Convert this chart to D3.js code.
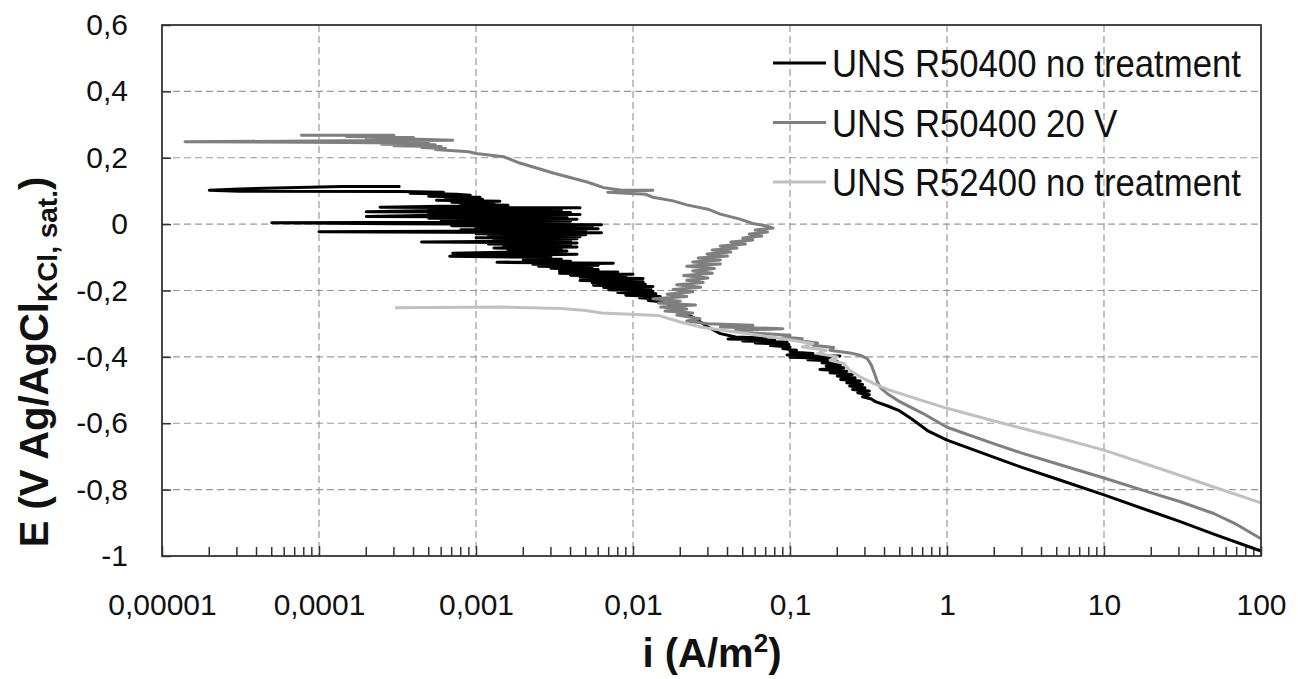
<!DOCTYPE html>
<html>
<head>
<meta charset="utf-8">
<script src="https://cdn.jsdelivr.net/npm/d3@7"></script>
<style>
body{margin:0;background:#fff;}
svg{display:block;font-family:"Liberation Sans",Arial,sans-serif;}
.grid line{stroke:#999;stroke-width:1.2;stroke-dasharray:7,4;}
.axis text{font-size:30px;fill:#111;}
.axis line{stroke:#333;stroke-width:1.5;}
.axis path{stroke:none;}
.series{fill:none;stroke-width:3;stroke-linejoin:round;}
</style>
</head>
<body>
<script>
//polarization curves, current density (A/m2) vs potential (V Ag/AgCl)

//tick values and labels
var xTickValues = [1e-5, 1e-4, 1e-3, 1e-2, 1e-1, 1, 10, 100];
var xTickLabels = ["0,00001", "0,0001", "0,001", "0,01", "0,1", "1", "10", "100"];
var yTickValues = [0.6, 0.4, 0.2, 0, -0.2, -0.4, -0.6, -0.8, -1];
var yTickLabels = ["0,6", "0,4", "0,2", "0", "-0,2", "-0,4", "-0,6", "-0,8", "-1"];

//series names and colours
var seriesNames = ["UNS R50400 no treatment", "UNS R50400 20 V", "UNS R52400 no treatment"];
var seriesColors = ["#000000", "#7f7f7f", "#c0c0c0"];

//each point is [i (A/m2), E (V)]
var r50400Untreated = [
    [3.3e-4, 0.113], [1.4e-4, 0.113], [3.1e-5, 0.106], [2.0e-5, 0.102], [3.1e-5, 0.099],
    [3.3e-4, 0.098], [6.2e-4, 0.096], [3.8e-4, 0.093], [7.5e-4, 0.090], [9.2e-4, 0.087],
    [5.0e-4, 0.084], [1.06e-3, 0.081], [6.4e-4, 0.078], [1.1e-3, 0.075], [5.6e-4, 0.072],
    [1.42e-3, 0.069], [7.0e-4, 0.066], [1.3e-3, 0.063], [8.0e-4, 0.060], [1.6e-3, 0.057],
    [6.0e-4, 0.054], [2.45e-4, 0.051], [4.6e-3, 0.049], [5.0e-4, 0.046], [3.5e-3, 0.043],
    [4.4e-4, 0.040], [2.0e-4, 0.037], [4.0e-3, 0.035], [5.0e-4, 0.032], [4.6e-3, 0.029],
    [4.4e-4, 0.026], [2.0e-4, 0.023], [3.8e-3, 0.021], [5.0e-4, 0.018], [4.4e-3, 0.015],
    [6.0e-4, 0.012], [4.0e-3, 0.009], [8.0e-4, 0.006], [5.0e-5, 0.004], [3.0e-4, 0.001],
    [6.3e-3, -0.002], [7.0e-4, -0.005], [5.5e-3, -0.008], [1.0e-3, -0.011], [6.0e-3, -0.014],
    [8.0e-4, -0.017], [5.0e-3, -0.020], [1.0e-4, -0.023], [6.3e-3, -0.026], [1.0e-3, -0.029],
    [5.0e-3, -0.032], [1.2e-3, -0.035], [4.6e-3, -0.038], [1.0e-3, -0.041], [4.4e-3, -0.044],
    [1.3e-3, -0.047], [4.0e-3, -0.050], [4.5e-4, -0.054], [4.4e-3, -0.057], [1.2e-3, -0.060],
    [4.0e-3, -0.063], [1.5e-3, -0.066], [4.4e-3, -0.069], [1.3e-3, -0.072], [3.5e-3, -0.075],
    [1.6e-3, -0.078], [3.8e-3, -0.081], [1.5e-3, -0.085], [7.1e-4, -0.088], [4.4e-3, -0.091],
    [1.8e-3, -0.094], [6.8e-4, -0.097], [3.0e-3, -0.100], [2.0e-3, -0.103], [3.5e-3, -0.106],
    [2.0e-3, -0.109], [4.0e-3, -0.112], [1.36e-3, -0.115], [7.5e-3, -0.118], [2.3e-3, -0.121],
    [6.0e-3, -0.124], [2.5e-3, -0.127], [5.5e-3, -0.130], [3.0e-3, -0.133], [6.0e-3, -0.137],
    [3.4e-3, -0.141], [8.0e-3, -0.144], [3.4e-3, -0.148], [0.010, -0.151], [4.0e-3, -0.154],
    [9.0e-3, -0.157], [4.6e-3, -0.160], [0.0116, -0.164], [5.0e-3, -0.167], [4.6e-3, -0.170],
    [0.0116, -0.174], [5.5e-3, -0.177], [0.012, -0.181], [5.6e-3, -0.184], [0.0134, -0.188],
    [6.5e-3, -0.191], [0.013, -0.195], [7.0e-3, -0.198], [0.0134, -0.202], [8.0e-3, -0.206],
    [0.014, -0.210], [9.0e-3, -0.214], [0.0149, -0.218], [0.011, -0.222], [0.015, -0.226],
    [0.0125, -0.230], [0.016, -0.235], [0.018, -0.250], [0.022, -0.270], [0.026, -0.290],
    [0.030, -0.310], [0.036, -0.330], [0.045, -0.340], [0.070, -0.343], [0.0403, -0.346],
    [0.080, -0.349], [0.050, -0.352], [0.0957, -0.355], [0.060, -0.358], [0.098, -0.362],
    [0.075, -0.366], [0.100, -0.370], [0.090, -0.375], [0.110, -0.380], [0.100, -0.385],
    [0.140, -0.390], [0.0957, -0.394], [0.208, -0.397], [0.100, -0.401], [0.190, -0.405],
    [0.130, -0.409], [0.200, -0.413], [0.160, -0.418], [0.210, -0.423], [0.170, -0.428],
    [0.220, -0.433], [0.155, -0.438], [0.230, -0.443], [0.180, -0.448], [0.250, -0.453],
    [0.200, -0.458], [0.260, -0.463], [0.210, -0.468], [0.280, -0.473], [0.230, -0.478],
    [0.290, -0.483], [0.240, -0.488], [0.300, -0.493], [0.250, -0.498], [0.320, -0.503],
    [0.270, -0.508], [0.320, -0.514], [0.290, -0.520], [0.330, -0.527], [0.350, -0.535],
    [0.420, -0.548], [0.50, -0.563], [0.60, -0.588], [0.75, -0.622], [1, -0.651],
    [2, -0.703], [3, -0.733], [5, -0.768], [10, -0.816], [20, -0.866],
    [30, -0.895], [50, -0.934], [100, -0.985]
];

var r50400At20V = [
    [7.6e-5, 0.268], [3.0e-4, 0.268], [1.5e-4, 0.264], [4.0e-4, 0.261], [2.0e-4, 0.258],
    [4.4e-4, 0.256], [7.1e-4, 0.253], [1.4e-4, 0.251], [1.4e-5, 0.248], [1.5e-4, 0.246],
    [5.0e-4, 0.244], [2.5e-4, 0.241], [5.5e-4, 0.239], [3.0e-4, 0.236], [6.0e-4, 0.234],
    [4.5e-4, 0.231], [6.4e-4, 0.228], [5.5e-4, 0.225], [9.0e-4, 0.218], [1.0e-3, 0.213],
    [1.5e-3, 0.203], [1.9e-3, 0.184], [3.1e-3, 0.154], [5.1e-3, 0.127], [6.5e-3, 0.110],
    [8.3e-3, 0.103], [0.0134, 0.102], [6.9e-3, 0.096], [0.012, 0.090], [0.0134, 0.081],
    [0.018, 0.070], [0.022, 0.058], [0.030, 0.045], [0.036, 0.030], [0.048, 0.015],
    [0.058, 0.002], [0.070, -0.005], [0.078, -0.012], [0.060, -0.018], [0.072, -0.024],
    [0.055, -0.030], [0.066, -0.036], [0.050, -0.042], [0.058, -0.048], [0.042, -0.054],
    [0.052, -0.060], [0.036, -0.066], [0.046, -0.072], [0.032, -0.078], [0.042, -0.084],
    [0.0296, -0.090], [0.040, -0.096], [0.026, -0.102], [0.036, -0.108], [0.024, -0.114],
    [0.036, -0.120], [0.022, -0.127], [0.033, -0.134], [0.024, -0.141], [0.032, -0.148],
    [0.021, -0.155], [0.030, -0.162], [0.022, -0.169], [0.028, -0.176], [0.019, -0.183],
    [0.027, -0.190], [0.018, -0.197], [0.024, -0.204], [0.0165, -0.211], [0.022, -0.218],
    [0.0134, -0.225], [0.020, -0.232], [0.0145, -0.238], [0.025, -0.244], [0.015, -0.250],
    [0.022, -0.256], [0.016, -0.262], [0.024, -0.268], [0.019, -0.274], [0.0267, -0.285],
    [0.022, -0.292], [0.030, -0.300], [0.058, -0.305], [0.036, -0.310], [0.090, -0.315],
    [0.045, -0.320], [0.058, -0.328], [0.100, -0.335], [0.090, -0.340], [0.120, -0.345],
    [0.110, -0.350], [0.150, -0.358], [0.140, -0.365], [0.190, -0.372], [0.180, -0.380],
    [0.240, -0.388], [0.280, -0.395], [0.310, -0.405], [0.330, -0.425], [0.345, -0.450],
    [0.360, -0.475], [0.380, -0.495], [0.415, -0.510], [0.50, -0.535], [0.70, -0.570],
    [1, -0.612], [2, -0.662], [3, -0.690], [5, -0.722], [10, -0.765],
    [20, -0.810], [30, -0.835], [50, -0.872], [70, -0.905], [100, -0.948]
];

var r52400Untreated = [
    [3.05e-4, -0.252], [1.5e-3, -0.250], [3.5e-3, -0.254], [5.0e-3, -0.260], [6.3e-3, -0.268],
    [0.0145, -0.275], [0.020, -0.295], [0.027, -0.310], [0.035, -0.318], [0.050, -0.328],
    [0.070, -0.338], [0.095, -0.347], [0.110, -0.352], [0.140, -0.360], [0.120, -0.370],
    [0.170, -0.380], [0.150, -0.390], [0.200, -0.400], [0.180, -0.410], [0.220, -0.420],
    [0.240, -0.440], [0.280, -0.460], [0.340, -0.480], [0.430, -0.500], [0.60, -0.522],
    [1, -0.555], [2, -0.593], [3, -0.615], [5, -0.642], [10, -0.681],
    [20, -0.728], [30, -0.756], [50, -0.792], [100, -0.840]
];

var allSeries = [r50400Untreated, r50400At20V, r52400Untreated];

var width = 1298,
    height = 679,
    plotLeft = 162, plotRight = 1261, plotTop = 25, plotBottom = 556;

var svg = d3.select("body")
    .append("svg")
    .attr("width", width)
    .attr("height", height);

var x = d3.scaleLog()
    .domain([1e-5, 100])
    .range([plotLeft, plotRight]);

var y = d3.scaleLinear()
    .domain([-1, 0.6])
    .range([plotBottom, plotTop]);

//dashed grid
var grid = svg.append("g").attr("class", "grid");
grid.selectAll(".vg")
    .data(xTickValues.slice(1, -1))
    .enter()
    .append("line")
    .attr("x1", function(d){ return x(d); })
    .attr("x2", function(d){ return x(d); })
    .attr("y1", plotTop)
    .attr("y2", plotBottom);
grid.selectAll(".hg")
    .data(yTickValues.slice(1, -1))
    .enter()
    .append("line")
    .attr("x1", plotLeft)
    .attr("x2", plotRight)
    .attr("y1", function(d){ return y(d); })
    .attr("y2", function(d){ return y(d); });

//minor ticks on the log axis
var minorTicks = [];
xTickValues.slice(0, -1).forEach(function(dec){
    for (var m = 2; m <= 9; m++){ minorTicks.push(dec * m); }
});
svg.append("g")
    .selectAll("line")
    .data(minorTicks)
    .enter()
    .append("line")
    .attr("x1", function(d){ return x(d); })
    .attr("x2", function(d){ return x(d); })
    .attr("y1", plotBottom)
    .attr("y2", plotBottom - 9)
    .attr("stroke", "#333")
    .attr("stroke-width", 1.5);

//axes
var xAxis = d3.axisBottom(x)
    .tickValues(xTickValues)
    .tickSize(-10)
    .tickSizeOuter(0)
    .tickPadding(38)
    .tickFormat(function(d, i){ return xTickLabels[i]; });
svg.append("g")
    .attr("class", "axis")
    .attr("transform", "translate(0," + plotBottom + ")")
    .call(xAxis);

var yAxis = d3.axisLeft(y)
    .tickValues(yTickValues)
    .tickSize(-9)
    .tickSizeOuter(0)
    .tickPadding(34)
    .tickFormat(function(d, i){ return yTickLabels[i]; });
svg.append("g")
    .attr("class", "axis")
    .attr("transform", "translate(" + plotLeft + ",0)")
    .call(yAxis);

//curves
var line = d3.line()
    .x(function(d){ return x(d[0]); })
    .y(function(d){ return y(d[1]); });

svg.selectAll(".series")
    .data(allSeries)
    .enter()
    .append("path")
    .attr("class", "series")
    .attr("d", line)
    .attr("stroke", function(d, i){ return seriesColors[i]; })
    .attr("stroke-width", function(d, i){ return i == 0 ? 3.4 : 3; });

//plot frame
svg.append("rect")
    .attr("x", plotLeft)
    .attr("y", plotTop)
    .attr("width", plotRight - plotLeft)
    .attr("height", plotBottom - plotTop)
    .attr("fill", "none")
    .attr("stroke", "#333")
    .attr("stroke-width", 1.8);

//legend
var legend = svg.append("g");
seriesNames.forEach(function(name, i){
    var ly = 63 + i * 59.5;
    legend.append("line")
        .attr("x1", 773).attr("x2", 826)
        .attr("y1", ly).attr("y2", ly)
        .attr("stroke", seriesColors[i])
        .attr("stroke-width", 3);
    legend.append("text")
        .attr("transform", "translate(832," + (ly + 14) + ") scale(0.89,1)")
        .attr("font-size", 39)
        .attr("fill", "#111")
        .text(name);
});

//axis titles
var xTitle = svg.append("text")
    .attr("x", 712)
    .attr("y", 667)
    .attr("text-anchor", "middle")
    .attr("font-size", 40)
    .attr("font-weight", "bold")
    .attr("fill", "#111");
xTitle.append("tspan").text("i (A/m");
xTitle.append("tspan").attr("font-size", 26).attr("dy", -15).text("2");
xTitle.append("tspan").attr("dy", 15).text(")");

var yTitle = svg.append("text")
    .attr("transform", "translate(48,362) rotate(-90)")
    .attr("text-anchor", "middle")
    .attr("font-size", 40)
    .attr("font-weight", "bold")
    .attr("fill", "#111");
yTitle.append("tspan").text("E (V Ag/AgCl");
yTitle.append("tspan").attr("font-size", 28).attr("dy", 9).text("KCl, sat.");
yTitle.append("tspan").attr("dy", -9).text(")");
</script>
</body>
</html>
